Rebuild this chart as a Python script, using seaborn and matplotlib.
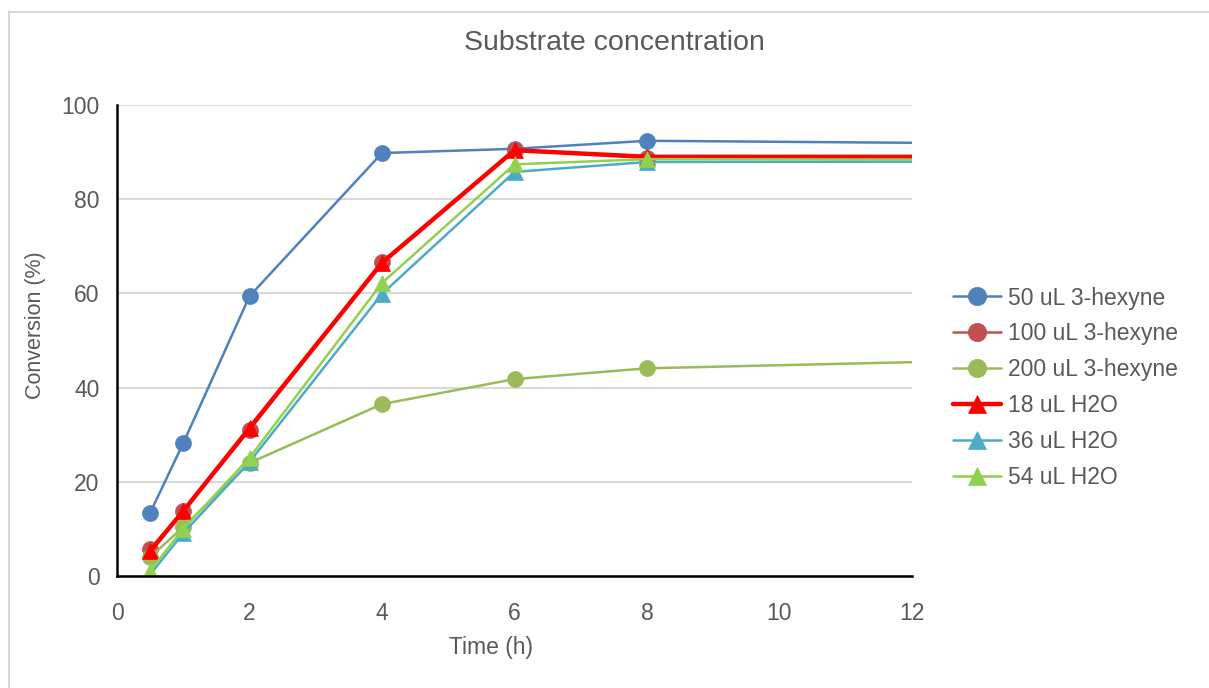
import matplotlib
matplotlib.use("Agg")
import matplotlib.pyplot as plt
import seaborn as sns
import pandas as pd
from matplotlib.patches import Rectangle

# Sampling times (h); the last point lies past the visible axis range
time_h = [0.5, 1, 2, 4, 6, 8, 24]

hexyne_50 = [13.4, 28.2, 59.4, 89.8, 90.7, 92.4, 90.7]
hexyne_100 = [5.7, 13.8, 31.0, 66.7, 90.4, 88.8, 89.0]
hexyne_200 = [4.0, 10.4, 24.0, 36.5, 41.8, 44.1, 49.3]
water_18 = [5.3, 13.8, 31.4, 66.5, 90.4, 89.0, 89.0]
water_36 = [0.3, 9.1, 24.2, 59.9, 85.8, 87.9, 88.2]
water_54 = [1.1, 10.0, 25.1, 62.2, 87.4, 88.5, 88.2]

series_names = ["50 uL 3-hexyne", "100 uL 3-hexyne", "200 uL 3-hexyne",
                "18 uL H2O", "36 uL H2O", "54 uL H2O"]
series_values = [hexyne_50, hexyne_100, hexyne_200, water_18, water_36, water_54]
series_colors = ["#4F81BD", "#C0504D", "#9BBB59", "#FF0000", "#4BACC6", "#92D050"]
series_markers = ["o", "o", "o", "^", "^", "^"]
series_widths = [1.8, 1.8, 1.8, 3.2, 1.8, 1.8]

x_ticks = [0, 2, 4, 6, 8, 10, 12]
y_ticks = [0, 20, 40, 60, 80, 100]

sns.set_theme(style="white")
plt.rcParams["font.family"] = ["Liberation Sans", "DejaVu Sans"]
text_color = "#595959"
fs = 16.5

fig = plt.figure(figsize=(12.09, 6.88), dpi=100)
ax = fig.add_axes([117 / 1209, 112 / 688, 795 / 1209, 471 / 688])

# Outer chart frame
fig.patches.append(Rectangle((9 / 1209, -0.05), 1.2, 1 - 12 / 688 + 0.05,
                             transform=fig.transFigure, fill=False,
                             edgecolor="#D9D9D9", linewidth=1.5, zorder=0))

for name, vals, col, mk, lw in zip(series_names, series_values, series_colors,
                                    series_markers, series_widths):
    df = pd.DataFrame({"Time (h)": time_h, "Conversion (%)": vals})
    sns.lineplot(data=df, x="Time (h)", y="Conversion (%)", ax=ax, color=col,
                 linewidth=lw, marker=mk, markersize=11.5 if mk == "o" else 11,
                 markeredgecolor=col, markeredgewidth=0.5, label=name,
                 zorder=3)

ax.set_xlim(0, 12)
ax.set_ylim(0, 100)
ax.set_xticks(x_ticks)
ax.set_yticks(y_ticks)
ax.yaxis.grid(True, color="#D9D9D9", linewidth=1.5, zorder=0)
ax.xaxis.grid(False)
ax.set_axisbelow(True)

for side in ["top", "right"]:
    ax.spines[side].set_visible(False)
for side in ["left", "bottom"]:
    ax.spines[side].set_color("black")
    ax.spines[side].set_linewidth(1.8)
    ax.spines[side].set_zorder(4)

ax.tick_params(axis="both", direction="inout", length=9, width=1.8,
               color="black", labelsize=fs, labelcolor=text_color)
ax.tick_params(axis="x", pad=14)
ax.tick_params(axis="y", pad=8)

ax.set_xlabel("Time (h)", fontsize=fs, color=text_color, labelpad=8)
ax.set_ylabel("Conversion (%)", fontsize=15.5, color=text_color, labelpad=11)
ax.xaxis.label.set_x((491 - 117) / 795)
ax.yaxis.label.set_y((576 - 325) / 471)
fig.text(614 / 1209, 1 - 43 / 688, "Substrate concentration", fontsize=20.5,
         color=text_color, ha="center", va="center")

leg = ax.legend(loc="center left", bbox_to_anchor=(1.04, 0.40), frameon=False,
                fontsize=fs, handlelength=2.1, handletextpad=0.3,
                labelspacing=0.56, borderaxespad=0, markerscale=1.15)
for t in leg.get_texts():
    t.set_color(text_color)

fig.savefig("out.png", dpi=100)
